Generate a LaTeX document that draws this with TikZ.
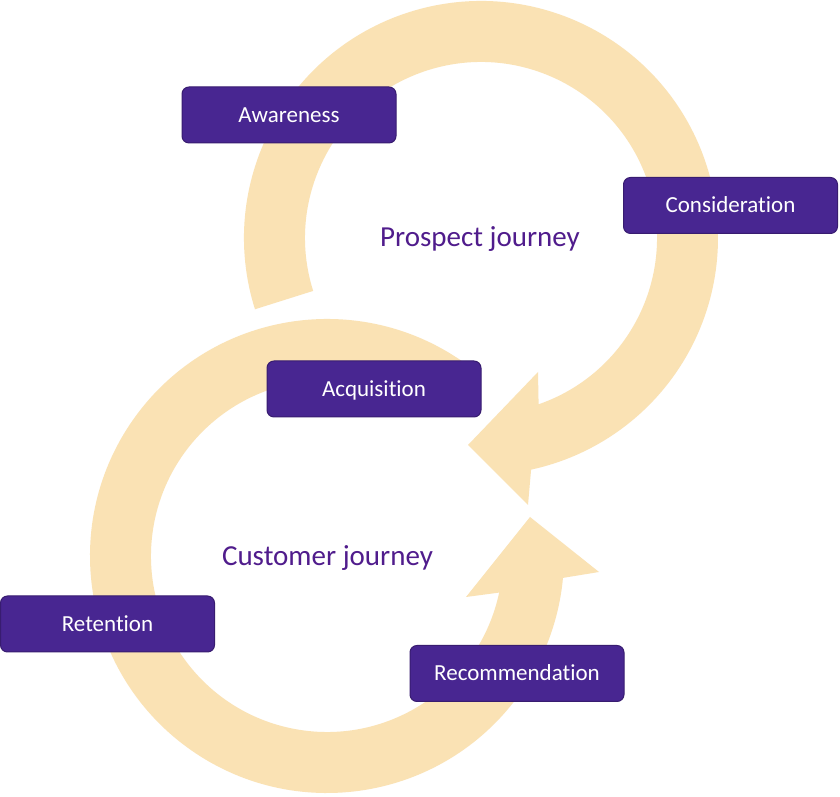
\documentclass[tikz,border=0pt]{standalone}
\usepackage{fontspec}
\setmainfont[Ligatures=NoCommon]{Carlito}
\usetikzlibrary{calc}
\definecolor{ringc}{RGB}{250,226,180}
\definecolor{boxc}{RGB}{72,38,145}
\definecolor{boxline}{RGB}{56,28,112}
\definecolor{jtext}{RGB}{80,28,140}
\begin{document}
\begin{tikzpicture}[x=1pt,y=1pt,
  stagebox/.style={draw=boxline, line width=1pt, fill=boxc, rounded corners=7pt,
    minimum width=214pt, minimum height=56pt, text=white,
    font=\fontsize{23}{27}\selectfont, text height=14.8pt, text depth=0pt, inner sep=0pt},
  journey/.style={text=jtext, font=\fontsize{29}{34}\selectfont, anchor=base, inner sep=0pt},
  ringshape/.style={fill=ringc, draw=none}]
\useasboundingbox (0,0) rectangle (840,797);
\fill[white] (0,0) rectangle (840,797);
\coordinate (uc) at (481,559);
\coordinate (lc) at (327,241);
% lower ring (customer journey)
\fill[ringshape] ($(lc)+(54:237)$) arc[start angle=54, end angle=354.7, radius=237]
  -- (599,225) -- (530,280) -- (466,200) -- ($(lc)+(348:176)$)
  arc[start angle=348, end angle=54, radius=176] -- cycle;
% upper ring (prospect journey)
\fill[ringshape] ($(uc)+(197.5:237)$) arc[start angle=197.5, end angle=-77.8, radius=237]
  -- (528,292) -- (468,352) -- (538,425) -- ($(uc)+(-70.9:176)$)
  arc[start angle=-70.9, end angle=197.5, radius=176] -- cycle;
% stage boxes
\node[stagebox] (awareness) at (289,682) {Awareness};
\node[stagebox] (consideration) at (730.5,591.5) {Consideration};
\node[stagebox] (acquisition) at (374,408) {Acquisition};
\node[stagebox] (retention) at (107.5,173) {Retention};
\node[stagebox] (recommendation) at (517,123.5) {Recommendation};
% journey labels
\node[journey] (prospect) at (480,550) {Prospect journey};
\node[journey] (customer) at (327.5,231) {Customer journey};
\end{tikzpicture}
\end{document}
